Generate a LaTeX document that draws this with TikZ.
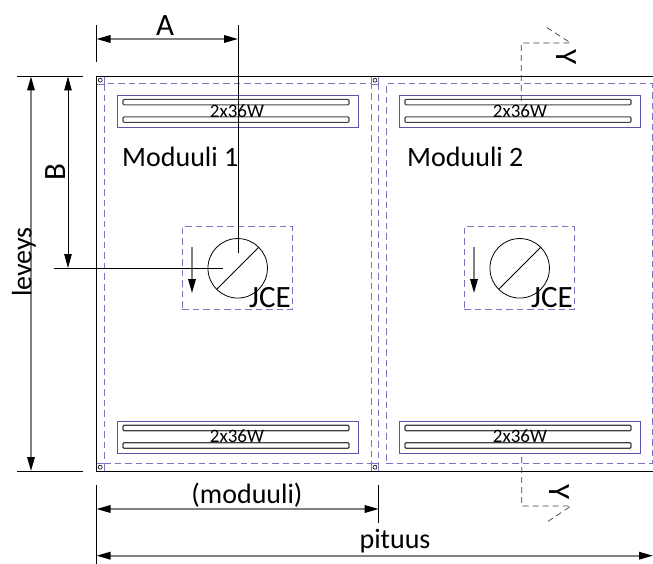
\documentclass[tikz,border=0pt]{standalone}
\usepackage{fontspec}
\setmainfont{Carlito}
\usetikzlibrary{positioning,arrows.meta}
\definecolor{planviolet}{RGB}{92,82,170}
\definecolor{dashviolet}{RGB}{125,115,195}

\begin{document}
\begin{tikzpicture}[x=1pt,y=-1pt,
        dimline/.style={draw=black!50, line width=1.6pt, {Triangle[length=14pt,width=7.5pt,black]}-{Triangle[length=14pt,width=7.5pt,black]}},
        flowline/.style={draw=black!50, line width=1.6pt, -{Triangle[length=14pt,width=7.5pt,black]}},
        extline/.style={draw=black, line width=0.8pt},
        dashbox/.style={rectangle, draw=dashviolet, dash pattern=on 6.5pt off 4pt, line width=1pt, inner sep=0pt, outer sep=0pt},
        cornerbox/.style={rectangle, draw=dashviolet, line width=0.7pt, minimum size=7.5pt, inner sep=0pt, outer sep=0pt},
        cornerdot/.style={circle, draw=black, line width=0.6pt, minimum size=4pt, inner sep=0pt, outer sep=0pt},
        lampbox/.style={rectangle, draw=planviolet, line width=0.9pt, minimum width=241pt, minimum height=32pt, inner sep=0pt, outer sep=0pt},
        tube/.style={rectangle, draw=black!75, line width=1.1pt, rounded corners=1pt, minimum width=226pt, minimum height=5.5pt, inner sep=0pt, outer sep=0pt},
        fixture/.style={circle, draw=black, line width=0.8pt, minimum size=59.5pt, inner sep=0pt, outer sep=0pt},
        cutline/.style={draw=black!75, line width=0.7pt, dash pattern=on 6pt off 4pt},
        smalllabel/.style={font=\fontsize{19}{19}\selectfont, inner sep=0pt},
        biglabel/.style={font=\fontsize{28}{28}\selectfont, inner sep=0pt},
        marklabel/.style={font=\fontsize{31}{31}\selectfont, inner sep=0pt}]
        \useasboundingbox (0,0) rectangle (653,564);
        % modules
        \node[dashbox, minimum width=267pt, minimum height=379pt] (modone) at (237.5,273.5) {};
        \node[dashbox, minimum width=266pt, minimum height=379pt] (modtwo) at (519,273.5) {};
        \coordinate (midtop) at (378.7,84);
        \coordinate (midbot) at (378.7,463);
        \draw[draw=dashviolet, dash pattern=on 6.5pt off 4pt, line width=1pt] (midtop) -- (midbot);
        \node[cornerbox] (cornera) at (100.2,80.2) {};
        \node[cornerbox] (cornerb) at (375,80.2) {};
        \node[cornerbox] (cornerc) at (100.2,467.2) {};
        \node[cornerbox] (cornerd) at (375,467.2) {};
        \node[cornerdot] (dota) at (cornera) {};
        \node[cornerdot] (dotb) at (cornerb) {};
        \node[cornerdot] (dotc) at (cornerc) {};
        \node[cornerdot] (dotd) at (cornerd) {};
        % frame
        \coordinate (frametl) at (96.5,76.5);
        \coordinate (frametr) at (653,76.5);
        \coordinate (framebl) at (96.5,471);
        \coordinate (framebr) at (653,471);
        \draw[extline] (frametr) -- (frametl) -- (framebl) -- (framebr);
        % lamps
        \node[lampbox] (lampone) at (237.5,111) {};
        \node[lampbox] (lamptwo) at (519.5,111) {};
        \node[lampbox] (lampthree) at (237.5,437) {};
        \node[lampbox] (lampfour) at (519.5,437) {};
        \node[tube] (tubeonea) at (236,102.2) {};
        \node[tube] (tubeoneb) [below=12pt of tubeonea] {};
        \node[tube] (tubetwoa) at (518,102.2) {};
        \node[tube] (tubetwob) [below=12pt of tubetwoa] {};
        \node[tube] (tubethreea) at (236,428) {};
        \node[tube] (tubethreeb) [below=12pt of tubethreea] {};
        \node[tube] (tubefoura) at (518,428) {};
        \node[tube] (tubefourb) [below=12pt of tubefoura] {};
        \node[smalllabel] (wattone) at (237,111) {2x36W};
        \node[smalllabel] (watttwo) at (520,111) {2x36W};
        \node[smalllabel] (wattthree) at (237,436) {2x36W};
        \node[smalllabel] (wattfour) at (520,436) {2x36W};
        \node[biglabel, anchor=base west] (nameone) at (122,167) {Moduuli 1};
        \node[biglabel, anchor=base west] (nametwo) at (407,167) {Moduuli 2};
        % fixtures
        \node[dashbox, minimum width=110.5pt, minimum height=82.5pt] (fixboxone) at (237.7,268) {};
        \node[dashbox, minimum width=110.5pt, minimum height=82.5pt] (fixboxtwo) at (519.7,268) {};
        \node[fixture] (fixone) at (237.7,268.3) {};
        \node[fixture] (fixtwo) at (519.7,268.3) {};
        \draw[extline] (fixone.45) -- (fixone.225);
        \draw[extline] (fixtwo.45) -- (fixtwo.225);
        \node[marklabel, anchor=base] (jceone) at (270,307) {JCE};
        \node[marklabel, anchor=base] (jcetwo) at (552,307) {JCE};
        \coordinate (flowonea) at (192,247);
        \coordinate (flowoneb) at (192,293);
        \coordinate (flowtwoa) at (474,247);
        \coordinate (flowtwob) at (474,293);
        \draw[flowline] (flowonea) -- (flowoneb);
        \draw[flowline] (flowtwoa) -- (flowtwob);
        % dimensions
        \coordinate (aext) at (96.5,25);
        \coordinate (aextb) at (96.5,62);
        \coordinate (atop) at (238,25);
        \coordinate (afix) at (238,253);
        \coordinate (aleft) at (96.5,39);
        \coordinate (aright) at (238,39);
        \draw[extline] (aext) -- (aextb);
        \draw[extline] (atop) -- (afix);
        \draw[dimline] (aleft) -- (aright);
        \node[marklabel] (alabel) at (165,26) {A};
        \coordinate (topext) at (17,76.5);
        \coordinate (topextb) at (83,76.5);
        \coordinate (botext) at (17,471);
        \coordinate (botextb) at (83,471);
        \coordinate (bleft) at (54,268);
        \coordinate (bright) at (223,268);
        \draw[extline] (topext) -- (topextb);
        \draw[extline] (botext) -- (botextb);
        \draw[extline] (bleft) -- (bright);
        \coordinate (btop) at (68,76.5);
        \coordinate (bbot) at (68,268);
        \draw[dimline, draw=black, line width=0.8pt] (btop) -- (bbot);
        \node[marklabel, rotate=90] (blabel) at (56,172) {B};
        \coordinate (ltop) at (31,76.5);
        \coordinate (lbot) at (31,471);
        \draw[dimline] (ltop) -- (lbot);
        \node[biglabel, rotate=90] (llabel) at (24,262) {leveys};
        \coordinate (mext) at (96.5,485);
        \coordinate (mextb) at (96.5,564);
        \coordinate (mrext) at (378.7,485);
        \coordinate (mrextb) at (378.7,523);
        \draw[extline] (mext) -- (mextb);
        \draw[extline] (mrext) -- (mrextb);
        \coordinate (mleft) at (96.5,509);
        \coordinate (mright) at (378.7,509);
        \draw[dimline] (mleft) -- (mright);
        \node[biglabel] (mlabel) at (247,495) {(moduuli)};
        \coordinate (pleft) at (96.5,555.7);
        \coordinate (pright) at (653,555.7);
        \draw[dimline] (pleft) -- (pright);
        \node[biglabel] (plabel) at (395,541) {pituus};
        % section marks
        \coordinate (cutta) at (521.3,101);
        \coordinate (cuttb) at (521.3,43);
        \coordinate (cuttc) at (570.7,43);
        \coordinate (cuttd) at (546,27);
        \draw[cutline] (cutta) -- (cuttb) -- (cuttc) -- (cuttd);
        \node[marklabel, rotate=-90] (ytop) at (566,57) {Y};
        \coordinate (cutba) at (521.7,457);
        \coordinate (cutbb) at (521.7,506);
        \coordinate (cutbc) at (571,506);
        \coordinate (cutbd) at (546,522.7);
        \draw[cutline] (cutba) -- (cutbb) -- (cutbc) -- (cutbd);
        \node[marklabel, rotate=-90] (ybot) at (559,492) {Y};
\end{tikzpicture}
\end{document}
